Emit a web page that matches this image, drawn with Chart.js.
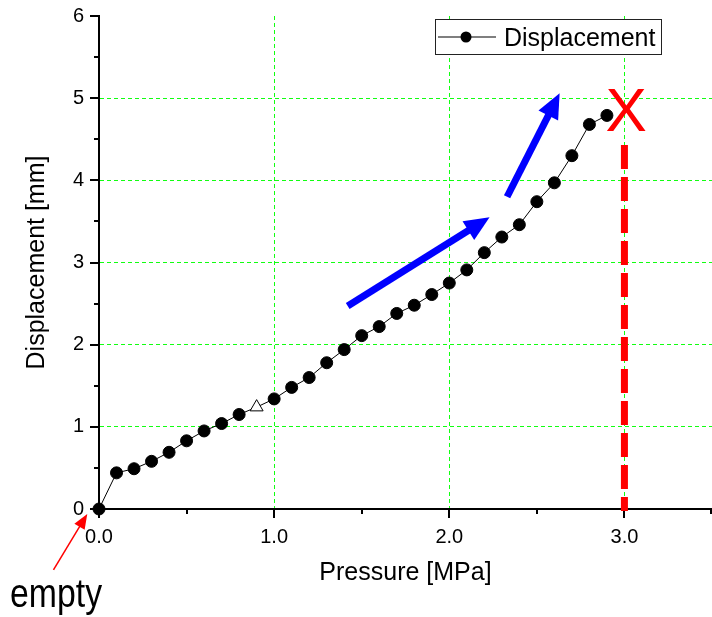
<!DOCTYPE html>
<html>
<head>
<meta charset="utf-8">
<title>Displacement vs Pressure</title>
<script src="https://cdn.jsdelivr.net/npm/chart.js@4.4.1/dist/chart.umd.min.js"></script>
<style>
	html, body { margin: 0; padding: 0; background: #fff; }
	#chart { display: block; }
</style>
</head>
<body>
<canvas id="chart" width="712" height="617"></canvas>
<script>
// pressure steps [MPa]
const pressure = [0.0, 0.1, 0.2, 0.3, 0.4, 0.5, 0.6, 0.7, 0.8, 0.9,
	1.0, 1.1, 1.2, 1.3, 1.4, 1.5, 1.6, 1.7, 1.8, 1.9,
	2.0, 2.1, 2.2, 2.3, 2.4, 2.5, 2.6, 2.7, 2.8, 2.9];
// displacement [mm]
const displacement = [0.00, 0.44, 0.49, 0.58, 0.69, 0.83, 0.95, 1.04, 1.15, 1.24,
	1.34, 1.48, 1.60, 1.78, 1.94, 2.11, 2.22, 2.38, 2.48, 2.61,
	2.75, 2.91, 3.12, 3.31, 3.46, 3.74, 3.97, 4.30, 4.68, 4.79];
// the point drawn as an open triangle
const triangleIndex = 9;

const seriesLabel = 'Displacement';
const xTitle = 'Pressure [MPa]';
const yTitle = 'Displacement [mm]';

// annotations, in data units: [x1, y1, x2, y2]
const trendArrows = [
	[1.42, 2.47, 2.23, 3.55],
	[2.33, 3.80, 2.63, 5.06],
];
const failureLine = [3.0, 4.43, 3.0, 0];
const failureMark = [3.01, 4.83];
const emptyArrow = [-0.26, -0.74, -0.067, -0.06];
const emptyLabel = [-0.508, -1.193];

const FONT = '"Liberation Sans", Arial, sans-serif';
Chart.defaults.font.family = FONT;
Chart.defaults.color = '#000';

let isWhole = v => Math.abs(v - Math.round(v)) < 1e-6;

let drawArrow = (ctx, x1, y1, x2, y2, width, headLen, headHalf, color) => {
	let ang = Math.atan2(y2 - y1, x2 - x1);
	let bx = x2 - Math.cos(ang) * headLen;
	let by = y2 - Math.sin(ang) * headLen;
	ctx.save();
	ctx.strokeStyle = color;
	ctx.fillStyle = color;
	ctx.lineWidth = width;
	ctx.beginPath();
	ctx.moveTo(x1, y1);
	ctx.lineTo(bx + Math.cos(ang), by + Math.sin(ang));
	ctx.stroke();
	ctx.beginPath();
	ctx.moveTo(x2, y2);
	ctx.lineTo(bx + Math.sin(ang) * headHalf, by - Math.cos(ang) * headHalf);
	ctx.lineTo(bx - Math.sin(ang) * headHalf, by + Math.cos(ang) * headHalf);
	ctx.closePath();
	ctx.fill();
	ctx.restore();
};

// major / minor tick marks, outside the axes
let tickMarks = {
	id: 'tickMarks',
	afterDatasetsDraw (chart) {
		let { ctx, scales: { x, y } } = chart;
		ctx.save();
		ctx.strokeStyle = '#000';
		ctx.lineWidth = 2;
		ctx.beginPath();
		x.ticks.forEach(t => {
			let px = Math.min(Math.round(x.getPixelForValue(t.value)), chart.width - 1);
			ctx.moveTo(px, y.bottom);
			ctx.lineTo(px, y.bottom + (isWhole(t.value) ? 9 : 5));
		});
		y.ticks.forEach(t => {
			let py = Math.round(y.getPixelForValue(t.value));
			ctx.moveTo(x.left, py);
			ctx.lineTo(x.left - (isWhole(t.value) ? 9 : 5), py);
		});
		ctx.stroke();
		ctx.restore();
	},
};

// arrows, failure line, X mark, "empty" note and the boxed legend
let annotations = {
	id: 'annotations',
	afterDraw (chart) {
		let { ctx, scales: { x, y }, chartArea } = chart;
		let px = v => x.getPixelForValue(v);
		let py = v => y.getPixelForValue(v);

		// red dashed failure line
		ctx.save();
		ctx.strokeStyle = '#ff0000';
		ctx.lineWidth = 7;
		ctx.setLineDash([24, 8]);
		ctx.beginPath();
		ctx.moveTo(px(failureLine[0]), py(failureLine[1]));
		ctx.lineTo(px(failureLine[2]), py(failureLine[3]) + 2);
		ctx.stroke();
		ctx.restore();

		// blue trend arrows
		trendArrows.forEach(a => {
			drawArrow(ctx, px(a[0]), py(a[1]), px(a[2]), py(a[3]), 7, 25, 11, '#0000ff');
		});

		// red X
		ctx.save();
		ctx.fillStyle = '#ff0000';
		ctx.font = '62px ' + FONT;
		ctx.textAlign = 'center';
		ctx.textBaseline = 'middle';
		ctx.fillText('X', px(failureMark[0]), py(failureMark[1]) + 2);
		ctx.restore();

		// "empty" note with thin red arrow
		drawArrow(ctx, px(emptyArrow[0]), py(emptyArrow[1]), px(emptyArrow[2]), py(emptyArrow[3]), 1.5, 15, 6, '#ff0000');
		ctx.save();
		ctx.fillStyle = '#000';
		ctx.font = '40px ' + FONT;
		ctx.textBaseline = 'alphabetic';
		let w = ctx.measureText('empty').width;
		ctx.translate(px(emptyLabel[0]), py(emptyLabel[1]));
		ctx.scale(92 / w, 1);
		ctx.fillText('empty', 0, 0);
		ctx.restore();

		// legend box
		let right = chartArea.right - 51;
		let left = right - 226;
		let top = chartArea.top + 3;
		ctx.save();
		ctx.fillStyle = '#fff';
		ctx.fillRect(left, top, 226, 35);
		ctx.strokeStyle = '#222';
		ctx.lineWidth = 1;
		ctx.strokeRect(left + 0.5, top + 0.5, 226, 35);
		let cy = top + 18;
		ctx.strokeStyle = '#555';
		ctx.lineWidth = 1.5;
		ctx.beginPath();
		ctx.moveTo(left + 3, cy);
		ctx.lineTo(left + 61, cy);
		ctx.stroke();
		ctx.fillStyle = '#000';
		ctx.beginPath();
		ctx.arc(left + 31, cy, 5.5, 0, Math.PI * 2);
		ctx.fill();
		ctx.font = '25px ' + FONT;
		ctx.textBaseline = 'alphabetic';
		ctx.fillText(chart.data.datasets[0].label, left + 69, top + 27);
		ctx.restore();
	},
};

let gridColor = (max) => (ctx) => {
	let v = ctx.tick ? ctx.tick.value : 0;
	return isWhole(v) && v > 0 && v < max ? '#11ff11' : 'rgba(0,0,0,0)';
};

new Chart(document.getElementById('chart'), {
	type: 'line',
	data: {
		datasets: [{
			label: seriesLabel,
			data: pressure.map((p, i) => ({ x: p, y: displacement[i] })),
			borderColor: '#000',
			borderWidth: 1,
			tension: 0,
			clip: false,
			pointStyle: pressure.map((p, i) => i === triangleIndex ? 'triangle' : 'circle'),
			pointRadius: pressure.map((p, i) => i === triangleIndex ? 7.5 : 6),
			pointBackgroundColor: pressure.map((p, i) => i === triangleIndex ? '#fff' : '#000'),
			pointBorderColor: '#000',
			pointBorderWidth: 1,
		}],
	},
	options: {
		responsive: false,
		animation: false,
		devicePixelRatio: 1,
		layout: {
			autoPadding: false,
			padding: { top: 16, right: 0, bottom: 0, left: 0 },
		},
		plugins: {
			legend: { display: false },
			tooltip: { enabled: false },
		},
		scales: {
			x: {
				type: 'linear',
				min: 0,
				max: 3.5,
				afterFit (scale) {
					scale.height = 108;
					scale.paddingLeft = 0;
					scale.paddingRight = 0;
				},
				ticks: {
					stepSize: 0.5,
					autoSkip: false,
					maxRotation: 0,
					padding: 16,
					font: { size: 20 },
					callback: v => isWhole(v) ? Number(v).toFixed(1) : '',
				},
				grid: {
					drawTicks: false,
					lineWidth: 1,
					color: gridColor(3.5),
				},
				border: { color: '#000', width: 2, dash: [4, 3] },
				title: {
					display: true,
					text: xTitle,
					font: { size: 25 },
					padding: { top: 0, bottom: 29 },
				},
			},
			y: {
				min: 0,
				max: 6,
				afterFit (scale) {
					scale.width = 99;
					scale.paddingTop = 0;
					scale.paddingBottom = 0;
				},
				ticks: {
					stepSize: 0.5,
					autoSkip: false,
					padding: 15,
					font: { size: 20 },
					callback: v => isWhole(v) ? String(Math.round(v)) : '',
				},
				grid: {
					drawTicks: false,
					lineWidth: 1,
					color: gridColor(6),
				},
				border: { color: '#000', width: 2, dash: [4, 3] },
				title: {
					display: true,
					text: yTitle,
					font: { size: 25 },
					padding: { top: 22, bottom: 0 },
				},
			},
		},
	},
	plugins: [ tickMarks, annotations ],
});
</script>
</body>
</html>
